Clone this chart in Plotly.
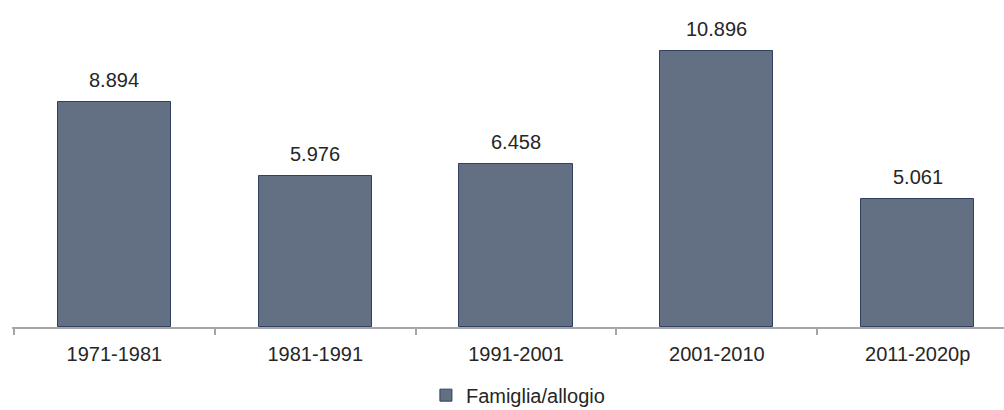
import plotly.graph_objects as go

categories = ["1971-1981", "1981-1991", "1991-2001", "2001-2010", "2011-2020p"]
values = [8894, 5976, 6458, 10896, 5061]
series_name = "Famiglia/allogio"


def fmt(v):
    return f"{v:,}".replace(",", ".")


FONT = "Liberation Sans, Arial, sans-serif"

fig = go.Figure()
fig.add_trace(go.Bar(
    x=categories, y=values, name=series_name,
    marker=dict(color="#637083", line=dict(color="#2f4060", width=1)),
    width=0.564, showlegend=True,
))
for c, v in zip(categories, values):
    fig.add_annotation(x=c, y=v, text=fmt(v), showarrow=False, yanchor="bottom",
                       yshift=9, font=dict(size=20, color="#262626", family=FONT))

fig.update_layout(
    width=1004, height=410,
    margin=dict(l=12, r=0, t=10, b=83, autoexpand=False),
    plot_bgcolor="white", paper_bgcolor="white",
    font=dict(family=FONT, size=20, color="#262626"),
    bargap=0,
    xaxis=dict(range=[-0.51, 4.43], showline=True, linecolor="#a6a6a6", linewidth=2,
               ticks="outside", tickson="boundaries", ticklen=6, tickcolor="#a6a6a6",
               tickwidth=2, showgrid=False, tickfont=dict(size=20), ticklabelstandoff=8),
    yaxis=dict(range=[0, 12530], visible=False, showgrid=False, zeroline=False),
    showlegend=True,
    legend=dict(orientation="h", x=0.51, xanchor="center", y=-0.215, yanchor="middle",
                font=dict(size=20), itemwidth=30),
)
fig.write_html("out.html")
